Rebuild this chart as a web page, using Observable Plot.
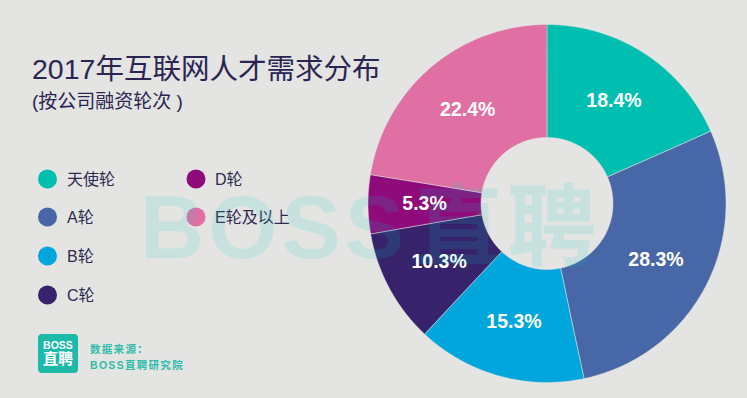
<!DOCTYPE html>
<html><head><meta charset="utf-8">
<script src="https://cdn.jsdelivr.net/npm/d3@7"></script>
<script src="https://cdn.jsdelivr.net/npm/@observablehq/plot@0.6"></script>
<style>
html,body{margin:0;padding:0;background:#e4e4e2;}
#wrap{position:relative;width:747px;height:398px;overflow:hidden;background:#e4e4e2;}
#wrap > svg{position:absolute;left:0;top:0;}
</style></head><body><div id="wrap"></div>
<script>
// ---- data ----
const categories = ["天使轮", "A轮", "B轮", "C轮", "D轮", "E轮及以上"];
const values = [18.4, 28.3, 15.3, 10.3, 5.3, 22.4];
const colors = ["#00bfb1", "#4767a6", "#00a6dc", "#36236b", "#8f0b7b", "#e070a3"];
const legendColumns = [["天使轮", "A轮", "B轮", "C轮"], ["D轮", "E轮及以上"]];
const title = "2017年互联网人才需求分布";
const subtitle = "(按公司融资轮次 )";
const sourceLines = ["数据来源：", "BOSS直聘研究院"];
const logoLines = ["BOSS", "直聘"];
const watermark = ["BOSS", "直聘"];

const W = 747, H = 398;
const LATIN = "'Liberation Sans', Arial, 'Noto Sans CJK SC', sans-serif";
const CJK = "'Liberation Sans', 'Noto Sans CJK SC', sans-serif";

// angles clockwise from 12 o'clock
const angle = d3.scaleLinear().domain([0, d3.sum(values)]).range([0, 360]);
const cum = d3.cumsum(values);
// ring radii expressed as polar distance (degrees) on an azimuthal-equidistant projection
const OUTER_DIST = 90, INNER_DIST = 90 * 66 / 179;
const lonOf = t => 180 - t;

const slices = categories.map((c, i) => {
  const a0 = angle(cum[i] - values[i]), a1 = angle(cum[i]);
  const mid = (a0 + a1) / 2;
  return {category: c, value: values[i], a0, a1,
    label: d3.format(".1f")(values[i]) + "%",
    lon: lonOf(mid), lat: 90 - (OUTER_DIST + INNER_DIST) / 2};
});

function ring(a0, a1) {
  const n = Math.max(2, Math.ceil((a1 - a0) / 0.5));
  const pts = [];
  for (let k = 0; k <= n; k++) pts.push([lonOf(a0 + (a1 - a0) * k / n), 90 - OUTER_DIST]);
  for (let k = n; k >= 0; k--) pts.push([lonOf(a0 + (a1 - a0) * k / n), 90 - INNER_DIST]);
  pts.push(pts[0]);
  return pts;
}
const features = slices.map(s => ({type: "Feature", properties: s,
  geometry: {type: "Polygon", coordinates: [ring(s.a0, s.a1)]}}));

const plot = Plot.plot({
  width: W, height: H,
  marginLeft: 367, marginRight: 21, marginTop: 24, marginBottom: 16,
  projection: {type: "azimuthal-equidistant", rotate: [0, -90],
    domain: {type: "MultiPoint", coordinates: [[0, 0], [90, 0], [180, 0], [-90, 0]]}},
  color: {domain: categories, range: colors},
  style: {background: "transparent", fontFamily: LATIN},
  marks: [
    Plot.geo(features, {fill: d => d.properties.category, stroke: "#e4e4e2", strokeWidth: 0.5}),
    Plot.text(slices, {x: "lon", y: "lat", text: "label", fill: "white",
      fontSize: 19.5, fontWeight: "bold", fontFamily: LATIN})
  ]
});
const wrap = document.getElementById("wrap");
wrap.appendChild(plot);

// ---- overlay: title, legend, source, watermark ----
const svg = d3.select(wrap).append("svg").attr("width", W).attr("height", H);
svg.append("text").attr("x", 32).attr("y", 79).attr("fill", "#2a2552")
  .attr("font-family", CJK).attr("font-size", 28.5).text(title);
svg.append("text").attr("x", 32).attr("y", 108).attr("fill", "#2a2552")
  .attr("font-family", CJK).attr("font-size", 19).text(subtitle);

const colorOf = d3.scaleOrdinal(categories, colors);
const colX = [[47.5, 67], [196, 215]];
const rowY = [179, 217, 256, 295];
legendColumns.forEach((col, ci) => col.forEach((name, ri) => {
  svg.append("circle").attr("cx", colX[ci][0]).attr("cy", rowY[ri]).attr("r", 9.5).attr("fill", colorOf(name));
  svg.append("text").attr("x", colX[ci][1]).attr("y", rowY[ri]).attr("dy", "0.36em")
    .attr("fill", "#2e2a50").attr("font-family", CJK).attr("font-size", 16).text(name);
}));

svg.append("rect").attr("x", 38).attr("y", 334).attr("width", 40).attr("height", 39).attr("rx", 4).attr("fill", "#1dbaa9");
svg.append("text").attr("x", 58).attr("y", 345).attr("dy", "0.36em").attr("text-anchor", "middle")
  .attr("fill", "white").attr("font-weight", "bold").attr("font-family", LATIN).attr("font-size", 10.5).text(logoLines[0]);
svg.append("text").attr("x", 58).attr("y", 358.5).attr("dy", "0.38em").attr("text-anchor", "middle")
  .attr("fill", "white").attr("font-weight", "bold").attr("font-family", CJK).attr("font-size", 15).text(logoLines[1]);
sourceLines.forEach((s, i) => svg.append("text").attr("x", 90).attr("y", [349, 365][i]).attr("dy", "0.36em")
  .attr("fill", "#2fbcaa").attr("font-weight", "bold").attr("font-family", CJK).attr("font-size", 10.5)
  .attr("letter-spacing", 1.3).text(s));

const wm = svg.append("text").attr("x", 140).attr("y", 258).attr("fill", "rgb(0,205,200)").attr("fill-opacity", 0.13)
  .attr("font-weight", "bold").attr("font-size", 89).attr("letter-spacing", 4);
wm.append("tspan").attr("font-family", LATIN).text(watermark[0]);
wm.append("tspan").attr("dx", 6).attr("font-family", CJK).text(watermark[1]);
</script></body></html>
